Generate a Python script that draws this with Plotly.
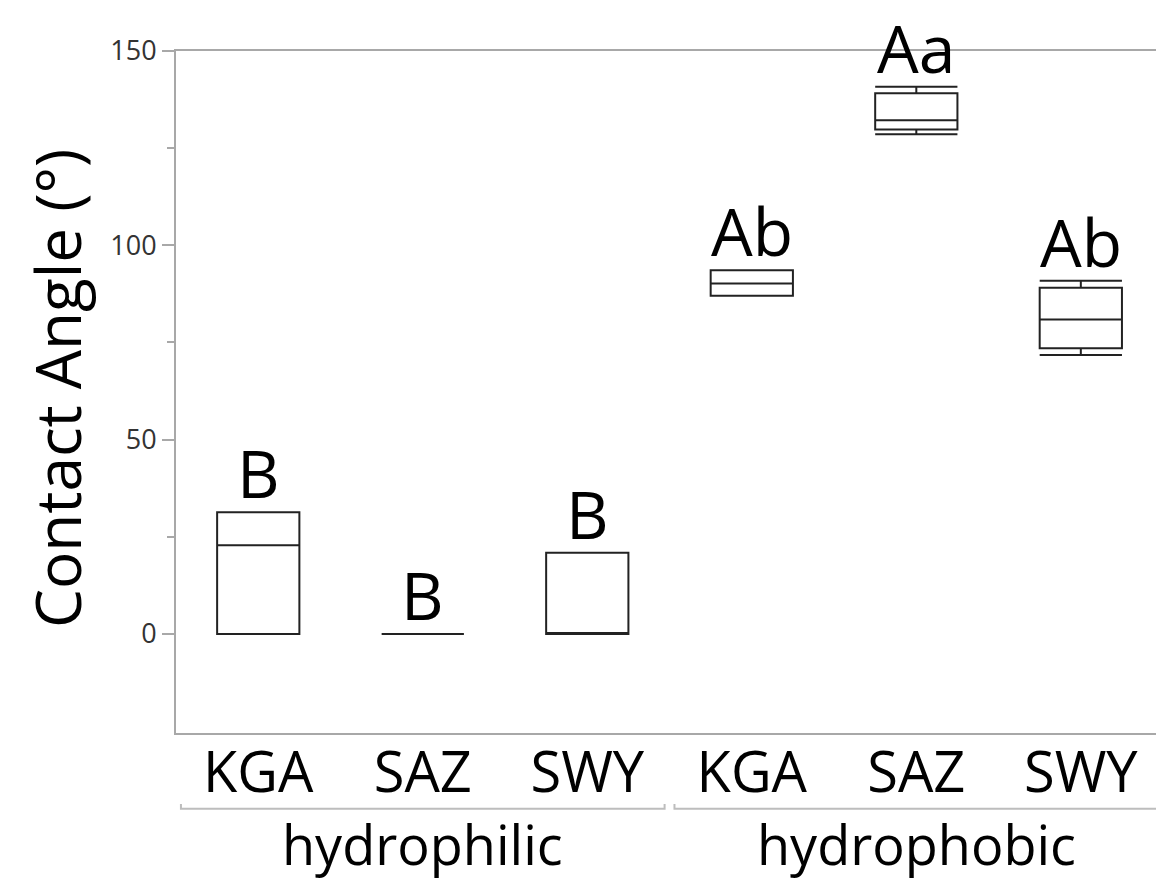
import plotly.graph_objects as go

# ---- data ----
groups = ["hydrophilic", "hydrophilic", "hydrophilic", "hydrophobic", "hydrophobic", "hydrophobic"]
sites = ["KGA", "SAZ", "SWY", "KGA", "SAZ", "SWY"]
lower_fence = [0.0, 0.0, 0.0, 87.0, 128.6, 71.8]
q1 = [0.0, 0.0, 0.0, 87.0, 129.8, 73.5]
median = [22.8, 0.0, 0.0, 90.2, 132.2, 80.9]
q3 = [31.3, 0.0, 20.9, 93.6, 139.1, 89.1]
upper_fence = [31.3, 0.0, 20.9, 93.6, 140.8, 90.9]
letters = ["B", "B", "B", "Ab", "Aa", "Ab"]
y_ticks = [0, 50, 100, 150]
y_minor = [25, 75, 125]
group_names = ["hydrophilic", "hydrophobic"]

cats = [f"{g}|{s}" for g, s in zip(groups, sites)]

FONT = "Open Sans"
AXIS_GREY = "#a8a8a8"

fig = go.Figure()
fig.add_trace(go.Box(
    x=cats, q1=q1, median=median, q3=q3,
    lowerfence=lower_fence, upperfence=upper_fence,
    width=0.5, whiskerwidth=1,
    line=dict(color="#222222", width=2),
    fillcolor="rgba(255,255,255,0)",
    boxpoints=False, showlegend=False, hoverinfo="skip",
))

# significance letters above each box
for c, uf, t in zip(cats, upper_fence, letters):
    fig.add_annotation(x=c, y=uf, text=t, showarrow=False, yanchor="bottom",
                       yshift=-7, font=dict(family=FONT, size=66, color="black"))

# group labels and brackets
for gi, gname in enumerate(group_names):
    xs = [i for i, g in enumerate(groups) if g == gname]
    left, right = min(xs) - 0.47, max(xs) + 0.47
    fig.add_annotation(x=(min(xs) + max(xs)) / 2, xref="x", y=-0.163, yref="paper",
                       text=gname, showarrow=False, yanchor="middle",
                       font=dict(family=FONT, size=54, color="black"))
    fig.add_shape(type="path", xref="x", yref="paper",
                  path=f"M {left},-0.104 L {left},-0.111 L {right},-0.111 L {right},-0.104",
                  line=dict(color="#bdbdbd", width=2))

# y-axis title
fig.add_annotation(x=-0.122, xref="paper", y=0.505, yref="paper", text="Contact Angle (°)",
                   textangle=-90, showarrow=False, xanchor="center", yanchor="middle",
                   font=dict(family=FONT, size=62, color="black"))

fig.update_layout(
    width=1156, height=896,
    margin=dict(l=176, r=0, t=51, b=163),
    paper_bgcolor="white", plot_bgcolor="white",
    font=dict(family=FONT),
    xaxis=dict(type="category", categoryorder="array", categoryarray=cats,
               range=[-0.5, 5.457], tickvals=cats, ticktext=sites,
               tickfont=dict(family=FONT, size=56, color="black"),
               ticklabelstandoff=-10,
               ticks="", showgrid=False, zeroline=False,
               showline=True, linecolor=AXIS_GREY, linewidth=2, mirror=True),
    yaxis=dict(range=[-25.5, 150], tickvals=y_ticks,
               tickfont=dict(family=FONT, size=27, color="#333333"),
               ticks="outside", ticklen=12, tickwidth=2, tickcolor=AXIS_GREY,
               minor=dict(tickvals=y_minor, ticks="outside", ticklen=7, tickwidth=2,
                          tickcolor=AXIS_GREY, showgrid=False),
               showgrid=False, zeroline=False,
               showline=True, linecolor=AXIS_GREY, linewidth=2),
)

fig.write_html("out.html")
